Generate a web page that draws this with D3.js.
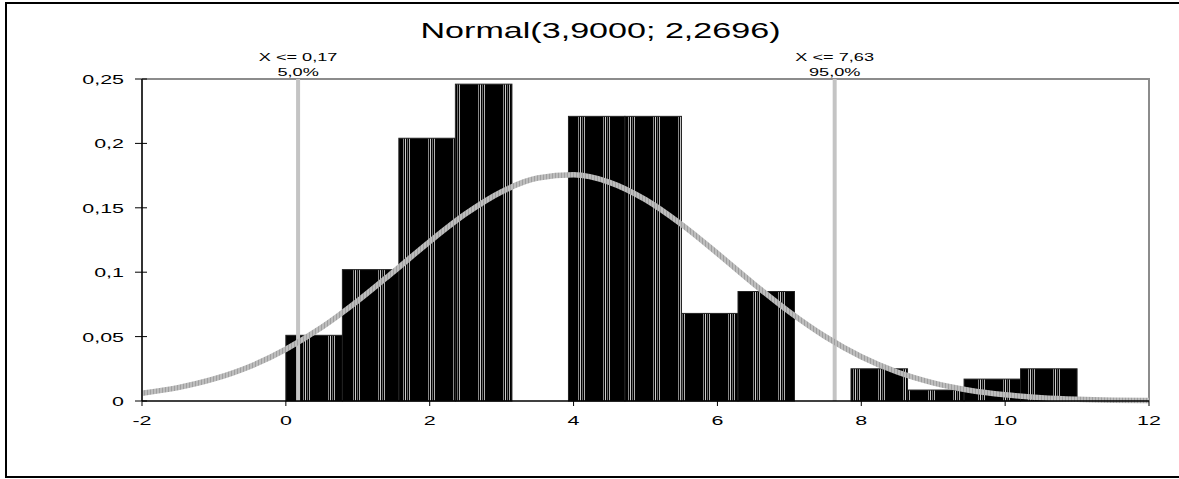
<!DOCTYPE html>
<html>
<head>
<meta charset="utf-8">
<script src="https://cdn.jsdelivr.net/npm/d3@7"></script>
<style>
  html, body { margin: 0; padding: 0; background: #fff; }
  svg { display: block; font-family: "Liberation Sans", Arial, sans-serif; }
</style>
</head>
<body>
<div id="chart"></div>
<script>
// ---- data ----
const titleText = "Normal(3,9000; 2,2696)";

// histogram bins (14 bins of equal width from 0 to 11)
const binEdges = [0, 0.786, 1.571, 2.357, 3.143, 3.929, 4.714, 5.5, 6.286, 7.071, 7.857, 8.643, 9.429, 10.214, 11];
const binDensity = [0.051, 0.102, 0.204, 0.246, 0, 0.221, 0.221, 0.068, 0.085, 0, 0.025, 0.0085, 0.017, 0.025];

// fitted curve, sampled every half unit
const curveX = [-2, -1.5, -1, -0.5, 0, 0.5, 1, 1.5, 2, 2.5, 3, 3.5, 4, 4.5, 5, 5.5, 6, 6.5, 7, 7.5, 8, 8.5, 9, 9.5, 10, 10.5, 11, 11.5, 12];
const curveY = [0.0060, 0.0104, 0.0171, 0.0268, 0.0402, 0.0572, 0.0777, 0.1005, 0.1238, 0.1453, 0.1625, 0.1731, 0.1756, 0.1698, 0.1563, 0.1371, 0.1146, 0.0912, 0.0692, 0.0500, 0.0344, 0.0225, 0.0141, 0.0084, 0.0048, 0.0026, 0.0013, 0.0006, 0.0003];

// percentile markers
const markerX = [0.17, 7.63];
const markerLine1 = ["X <= 0,17", "X <= 7,63"];
const markerLine2 = ["5,0%", "95,0%"];

// axes
const xTicks = [-2, 0, 2, 4, 6, 8, 10, 12];
const xTickLabels = ["-2", "0", "2", "4", "6", "8", "10", "12"];
const yTicks = [0, 0.05, 0.1, 0.15, 0.2, 0.25];
const yTickLabels = ["0", "0,05", "0,1", "0,15", "0,2", "0,25"];

// ---- drawing ----
const W = 1179, H = 479;
const plot = { left: 142, right: 1149, top: 79, bottom: 401 };
const stretch = 1.65; // the source picture is widened horizontally

const svg = d3.select('#chart').append('svg')
  .attr('width', W)
  .attr('height', H);

const defs = svg.append('defs');

// bar fill: black with thin light stripe clusters
const barPat = defs.append('pattern')
  .attr('id', 'barFill')
  .attr('patternUnits', 'userSpaceOnUse')
  .attr('width', 25).attr('height', 10);
barPat.append('rect').attr('width', 25).attr('height', 10).attr('fill', '#000');
[[3, '#aaa'], [5, '#fff'], [7, '#888'], [9, '#ddd']].forEach(([x, c]) => {
  barPat.append('rect').attr('x', x).attr('width', 0.8).attr('height', 10).attr('fill', c);
});

// curve stroke: grey with fine vertical hatch
const curvePat = defs.append('pattern')
  .attr('id', 'curveFill')
  .attr('patternUnits', 'userSpaceOnUse')
  .attr('width', 3).attr('height', 10);
curvePat.append('rect').attr('width', 3).attr('height', 10).attr('fill', '#bdbdbd');
curvePat.append('rect').attr('width', 1).attr('height', 10).attr('fill', '#a0a0a0');

// outer frame
svg.append('rect')
  .attr('x', 6).attr('y', 3)
  .attr('width', W + 20).attr('height', 474)
  .attr('fill', 'none')
  .attr('stroke', '#000')
  .attr('stroke-width', 2);

const x = d3.scaleLinear().domain([-2, 12]).range([plot.left, plot.right]);
const y = d3.scaleLinear().domain([0, 0.25]).range([plot.bottom, plot.top]);

const stretchedText = (g, px, py, str, size, anchor) => g.append('text')
  .attr('transform', `translate(${px},${py}) scale(${stretch},1)`)
  .attr('text-anchor', anchor)
  .attr('font-size', size)
  .attr('fill', '#000')
  .text(str);

// title
svg.append('text')
  .attr('transform', `translate(${W / 2 + 11},38) scale(1.55,1)`)
  .attr('text-anchor', 'middle')
  .attr('font-size', 22)
  .text(titleText);

// plot frame (top and right in grey)
svg.append('path')
  .attr('d', `M${plot.left},${plot.top}H${plot.right}V${plot.bottom}`)
  .attr('fill', 'none')
  .attr('stroke', '#8c8c8c')
  .attr('stroke-width', 2);

// bars
const bins = binDensity.map((v, i) => ({ x0: binEdges[i], x1: binEdges[i + 1], v }));
svg.append('g').selectAll('rect')
  .data(bins.filter(d => d.v > 0))
  .join('rect')
  .attr('x', d => x(d.x0))
  .attr('y', d => y(d.v))
  .attr('width', d => x(d.x1) - x(d.x0))
  .attr('height', d => y(0) - y(d.v))
  .attr('fill', 'url(#barFill)')
  .attr('stroke', '#222')
  .attr('stroke-width', 1);

// percentile marker lines + labels
const mg = svg.append('g');
markerX.forEach((mx, i) => {
  mg.append('line')
    .attr('x1', x(mx)).attr('x2', x(mx))
    .attr('y1', plot.top).attr('y2', plot.bottom)
    .attr('stroke', '#c4c4c4')
    .attr('stroke-width', 4);
  stretchedText(mg, x(mx), 61, markerLine1[i], 11, 'middle');
  stretchedText(mg, x(mx), 76, markerLine2[i], 11, 'middle');
});

// fitted curve
const line = d3.line()
  .x(d => x(d[0]))
  .y(d => y(d[1]))
  .curve(d3.curveMonotoneX);
svg.append('path')
  .datum(curveX.map((cx, i) => [cx, curveY[i]]))
  .attr('d', line)
  .attr('fill', 'none')
  .attr('stroke', 'url(#curveFill)')
  .attr('stroke-width', 5.5)
  .attr('stroke-linejoin', 'round');

// y axis
const ya = svg.append('g');
ya.append('line')
  .attr('x1', plot.left).attr('x2', plot.left)
  .attr('y1', plot.top).attr('y2', plot.bottom)
  .attr('stroke', '#333').attr('stroke-width', 2);
yTicks.forEach((t, i) => {
  ya.append('line')
    .attr('x1', plot.left - 7).attr('x2', plot.left + 5)
    .attr('y1', y(t)).attr('y2', y(t))
    .attr('stroke', '#000').attr('stroke-width', 1);
  stretchedText(ya, 124, y(t) + 5, yTickLabels[i], 13, 'end');
});

// x axis
const xa = svg.append('g');
xa.append('line')
  .attr('x1', plot.left).attr('x2', plot.right)
  .attr('y1', plot.bottom).attr('y2', plot.bottom)
  .attr('stroke', '#000').attr('stroke-width', 1.5);
xTicks.forEach((t, i) => {
  xa.append('line')
    .attr('x1', x(t)).attr('x2', x(t))
    .attr('y1', plot.bottom).attr('y2', plot.bottom + 5)
    .attr('stroke', '#000').attr('stroke-width', 1);
  stretchedText(xa, x(t), 425, xTickLabels[i], 13, 'middle');
});
</script>
</body>
</html>
